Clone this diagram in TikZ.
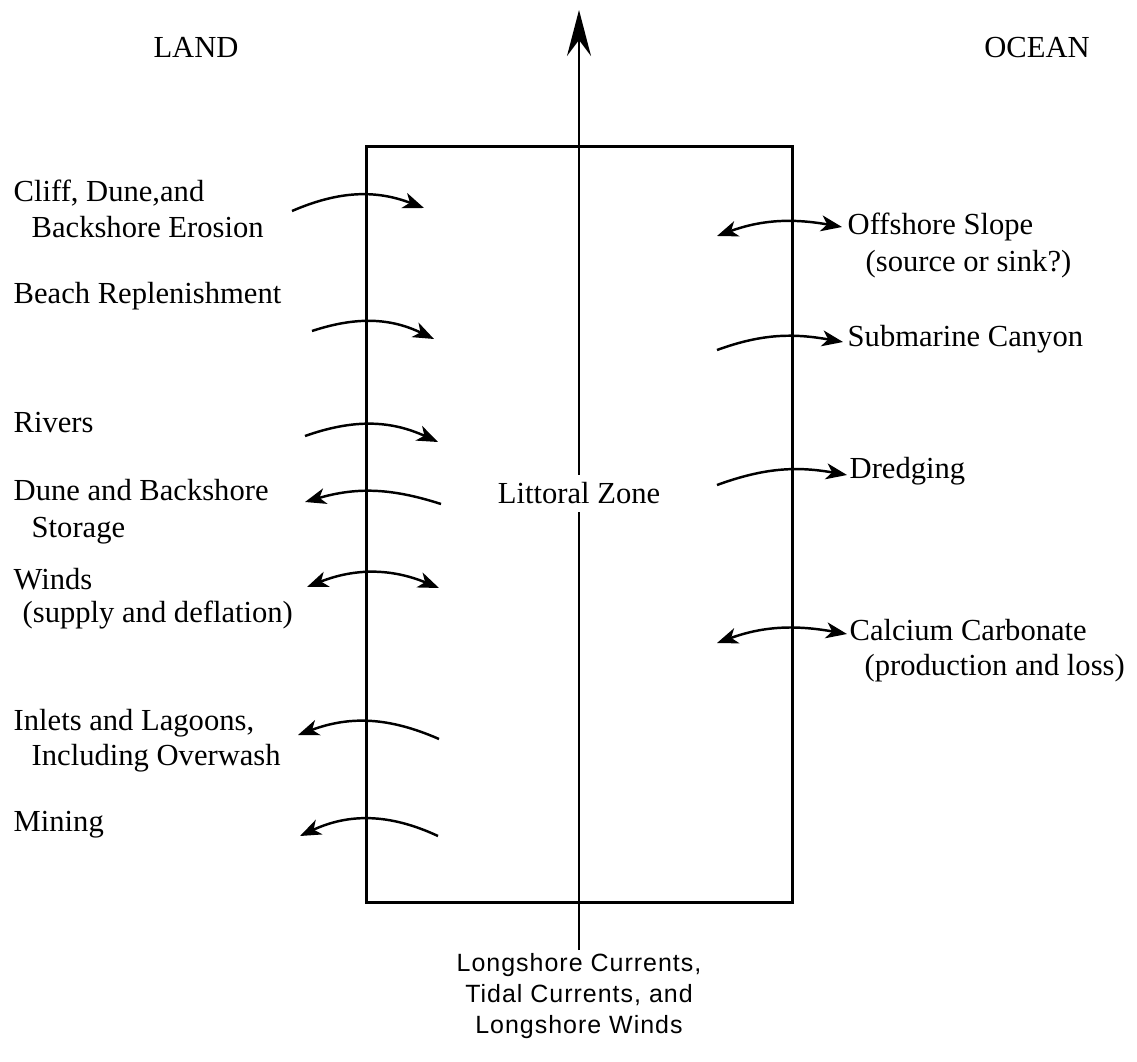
\documentclass[tikz,border=0pt]{standalone}
\usepackage{fontspec}
\setmainfont{Liberation Serif}
\newfontfamily\labsans[LetterSpace=4]{Liberation Sans}
\usetikzlibrary{arrows.meta}

\begin{document}
\begin{tikzpicture}[
  x=0.01cm, y=0.01cm, font=\fontsize{8.7}{10.3}\selectfont,
  >={Stealth[length=2.1mm, width=1.6mm, inset=0.6mm]},
  txt/.style={anchor=base west, inner sep=0pt},
  head/.style={anchor=base, inner sep=0pt},
  zone/.style={draw, line width=0.85pt, minimum width=4.25cm, minimum height=7.55cm, inner sep=0pt},
  flow/.style={line width=0.7pt},
  arcL/.style={flow, bend left=22},
  arcR/.style={flow, out=20, in=170},
  axis/.style={line width=0.6pt},
  drivers/.style={font=\labsans\fontsize{7.1}{8.8}\selectfont, align=center, inner sep=0pt}]
\useasboundingbox (0,0) rectangle (1137,-1061);
% ---------------- headings and zone
\node[head] (land)  at (196,-58)  {LAND};
\node[head] (ocean) at (1037,-58) {OCEAN};
\node[zone] (zone) at (579.5,-524.5) {};
\node[inner sep=2pt] (lit) at (579,-493) {Littoral Zone};
\node[drivers] (drv) at (579,-996) {Longshore Currents,\\Tidal Currents, and\\Longshore Winds};
% ---------------- longshore axis
\coordinate (src) at (579,-950);
\coordinate (tip) at (579,-10);
\draw[axis] (src) -- (lit.south);
\draw[axis, -{Stealth[length=4.6mm, width=2.4mm, inset=1.6mm]}] (lit.north) -- (tip);
% ---------------- land side
\node[txt] (cliff1) at (13,-202)  {Cliff, Dune,and};
\node[txt] (cliff2) at (31,-238)  {Backshore Erosion};
\node[txt] (beach)  at (13,-304)  {Beach Replenishment};
\node[txt] (river)  at (13,-432)  {Rivers};
\node[txt] (stor1)  at (13,-500)  {Dune and Backshore};
\node[txt] (stor2)  at (31,-537)  {Storage};
\node[txt] (wind1)  at (13,-589)  {Winds};
\node[txt] (wind2)  at (22,-622)  {(supply and deflation)};
\node[txt] (inl1)   at (13,-730)  {Inlets and Lagoons,};
\node[txt] (inl2)   at (31,-765)  {Including Overwash};
\node[txt] (mine)   at (13,-831)  {Mining};
\coordinate (cliffA) at (292,-211); \coordinate (cliffB) at (424,-208);
\coordinate (beachA) at (312,-331); \coordinate (beachB) at (434,-339);
\coordinate (riverA) at (305,-436); \coordinate (riverB) at (438,-442);
\coordinate (storA)  at (305,-502); \coordinate (storB)  at (441,-504);
\coordinate (windA)  at (307,-587); \coordinate (windB)  at (439,-588);
\coordinate (inlA)   at (298,-735); \coordinate (inlB)   at (439,-739);
\coordinate (mineA)  at (300,-836); \coordinate (mineB)  at (438,-836);
\draw[arcL, ->]  (cliffA) to (cliffB);
\draw[arcL, ->]  (beachA) to (beachB);
\draw[arcL, ->]  (riverA) to (riverB);
\draw[arcL, <-, bend left=17] (storA) to (storB);
\draw[arcL, <->] (windA) to (windB);
\draw[arcL, <-]  (inlA) to (inlB);
\draw[arcL, <-, bend left=25] (mineA) to (mineB);
% ---------------- ocean side
\node[txt] (off1)  at (847,-235) {Offshore Slope};
\node[txt] (off2)  at (865,-272) {(source or sink?)};
\node[txt] (can)   at (847,-347) {Submarine Canyon};
\node[txt] (dred)  at (849,-478) {Dredging};
\node[txt] (calc1) at (849,-640) {Calcium Carbonate};
\node[txt] (calc2) at (864,-675) {(production and loss)};
\coordinate (offA)  at (717,-236); \coordinate (offB)  at (842,-227);
\coordinate (canA)  at (717,-350); \coordinate (canB)  at (843,-342);
\coordinate (dredA) at (717,-485); \coordinate (dredB) at (847,-475);
\coordinate (calcA) at (717,-643); \coordinate (calcB) at (847,-634);
\draw[arcR, <->] (offA) to (offB);
\draw[arcR, ->]  (canA) to (canB);
\draw[arcR, ->]  (dredA) to (dredB);
\draw[arcR, <->] (calcA) to (calcB);
\end{tikzpicture}
\end{document}
